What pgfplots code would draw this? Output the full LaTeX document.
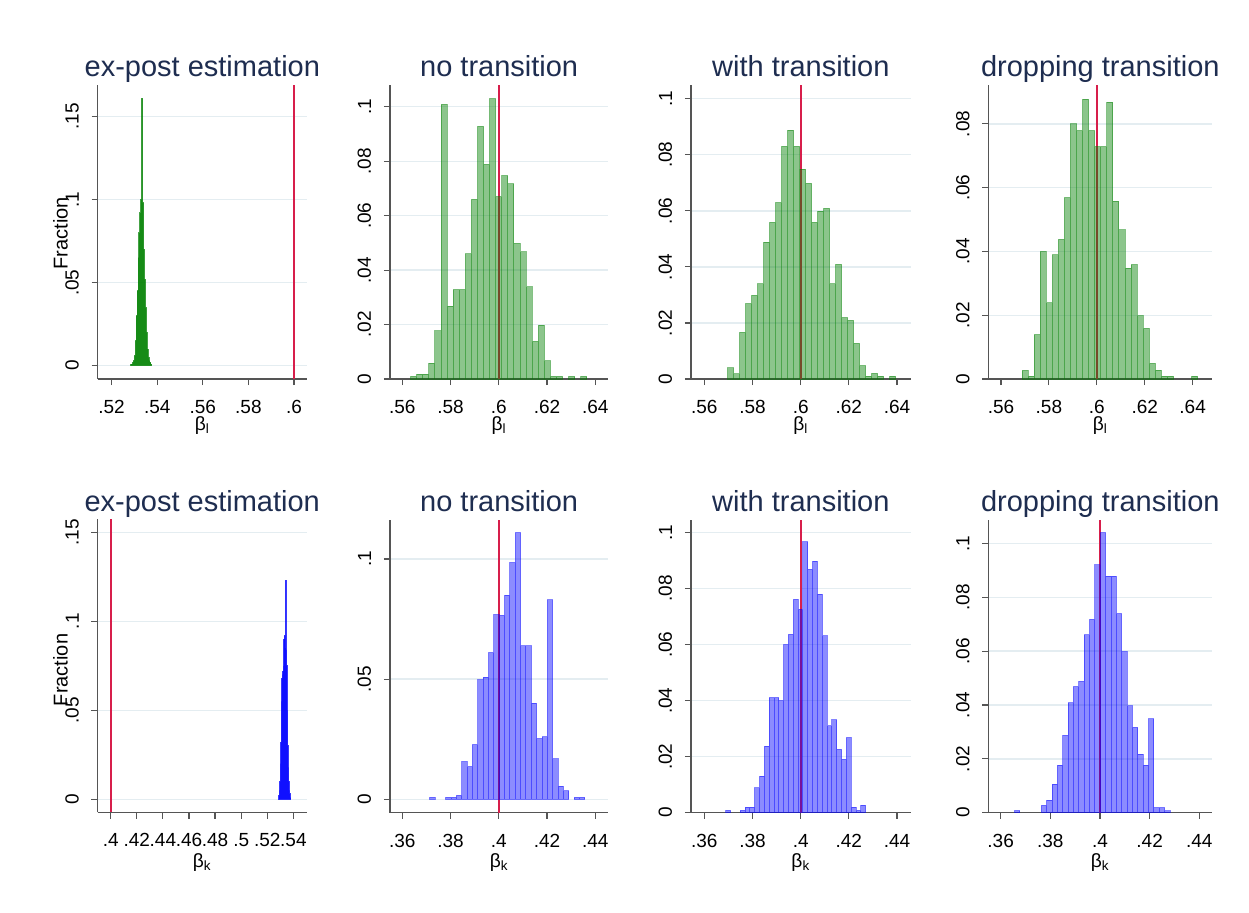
\documentclass[border=0pt]{standalone}
\usepackage{fontspec}
\setmainfont{Liberation Sans}
\usepackage{pgfplots}
\pgfplotsset{compat=1.18}
\definecolor{stgreen}{RGB}{0,128,0}
\definecolor{stblue}{RGB}{0,0,255}
\definecolor{stred}{RGB}{215,30,75}
\definecolor{gridc}{RGB}{228,237,241}
\definecolor{axisc}{RGB}{85,85,85}
\definecolor{titlec}{RGB}{30,45,80}
\pgfplotsset{
  panel/.style={
    scale only axis,
    scaled ticks=false,
    axis x line*=bottom, axis y line*=left,
    axis line style={draw=axisc, line width=0.6pt},
    tick align=outside,
    major tick length=3.1pt,
    every tick/.append style={draw=axisc, line width=0.6pt},
    ymajorgrids,
    major grid style={draw=gridc, line width=0.7pt},
    xticklabel style={font=\fontsize{9.5}{10}\selectfont},
    yticklabel style={font=\fontsize{9.5}{10}\selectfont, rotate=90, anchor=south},
    xticklabel shift=4.0pt,
    yticklabel shift=2.8pt,
    every axis title/.style={font=\fontsize{14.5}{16}\selectfont, text=titlec, at={(0.5,1)}, anchor=base, yshift=4.15pt},
    xlabel style={font=\fontsize{9.6}{11}\selectfont, at={(axis description cs:0.5,0)}, anchor=base},
    ylabel style={font=\fontsize{10}{12}\selectfont, anchor=center},
  },
  gbar/.style={ybar, bar shift=0pt, fill=stgreen, fill opacity=0.45, draw=stgreen, draw opacity=0.45, line width=0.5pt},
  bbar/.style={ybar, bar shift=0pt, fill=stblue, fill opacity=0.45, draw=stblue, draw opacity=0.45, line width=0.5pt},
  tline/.style={draw=stred, line width=1pt, no markers},
}
\begin{document}
\begin{tikzpicture}
\path[fill=white] (0,0) rectangle (624.5pt,456pt);

% ---------- Row 1 ----------
\begin{axis}[panel, at={(48.85pt,266.5pt)}, anchor=south west, width=104.65pt, height=147pt,
  xmin=0.5139, xmax=0.6057, ymin=-0.008, ymax=0.169,
  xtick={0.52,0.54,0.56,0.58,0.6}, xticklabels={.52,.54,.56,.58,.6},
  ytick={0,0.05,0.1,0.15}, yticklabels={0,.05,.1,.15},
  title={ex-post estimation}, xlabel={β\textsubscript{l}}, ylabel={Fraction},
  ylabel style={at={(axis description cs:-0.178,0.496)}},
  xlabel style={yshift=-25.8pt}]
\addplot[tline] coordinates {(0.6,-0.008) (0.6,0.169)};
\addplot[gbar, bar width=0.0004, fill opacity=0.7, draw opacity=0.7] coordinates {(0.5286,0.001)(0.5290,0.001)(0.5294,0.002)(0.5298,0.003)(0.5302,0.006)(0.5306,0.015)(0.5310,0.030)(0.5314,0.045)(0.5318,0.065)(0.5322,0.080)(0.5326,0.092)(0.5330,0.100)(0.5334,0.161)(0.5338,0.098)(0.5342,0.070)(0.5346,0.052)(0.5350,0.035)(0.5354,0.020)(0.5358,0.010)(0.5362,0.005)(0.5366,0.003)(0.5370,0.002)(0.5374,0.001)};
\end{axis}

\begin{axis}[panel, at={(195pt,266.5pt)}, anchor=south west, width=109.15pt, height=147pt,
  xmin=0.55489, xmax=0.64539, ymin=0, ymax=0.108,
  xtick={0.56,0.58,0.6,0.62,0.64}, xticklabels={.56,.58,.6,.62,.64},
  ytick={0,0.02,0.04,0.06,0.08,0.1}, yticklabels={0,.02,.04,.06,.08,.1},
  title={no transition}, xlabel={β\textsubscript{l}},
  xlabel style={yshift=-25.8pt}]
\addplot[tline] coordinates {(0.6,0) (0.6,0.108)};
\addplot[gbar, bar width=0.00252] coordinates {(0.56471,0.001)(0.56723,0.0018)(0.56975,0.0018)(0.57227,0.0058)(0.57479,0.0177)(0.57731,0.1009)(0.57983,0.0268)(0.58235,0.0328)(0.58487,0.0328)(0.58739,0.046)(0.58991,0.066)(0.59243,0.0928)(0.59495,0.0788)(0.59747,0.103)(0.59999,0.067)(0.60251,0.0747)(0.60503,0.0717)(0.60755,0.0498)(0.61007,0.0467)(0.61259,0.0338)(0.61511,0.0138)(0.61763,0.0198)(0.62015,0.0067)(0.62267,0.001)(0.62519,0.001)(0.63023,0.001)(0.63527,0.001)};
\end{axis}

\begin{axis}[panel, at={(345.5pt,266.5pt)}, anchor=south west, width=109.85pt, height=147pt,
  xmin=0.55446, xmax=0.64568, ymin=0, ymax=0.1049,
  xtick={0.56,0.58,0.6,0.62,0.64}, xticklabels={.56,.58,.6,.62,.64},
  ytick={0,0.02,0.04,0.06,0.08,0.1}, yticklabels={0,.02,.04,.06,.08,.1},
  title={with transition}, xlabel={β\textsubscript{l}},
  xlabel style={yshift=-25.8pt}]
\addplot[tline] coordinates {(0.6,0) (0.6,0.1049)};
\addplot[gbar, bar width=0.00249] coordinates {(0.57094,0.004)(0.57343,0.0018)(0.57592,0.0166)(0.57841,0.0269)(0.58090,0.0298)(0.58339,0.0339)(0.58588,0.0488)(0.58837,0.0559)(0.59086,0.0629)(0.59335,0.083)(0.59584,0.0888)(0.59833,0.083)(0.60082,0.0749)(0.60331,0.0698)(0.60580,0.0559)(0.60829,0.0599)(0.61078,0.0609)(0.61327,0.0339)(0.61576,0.0409)(0.61825,0.0219)(0.62074,0.0209)(0.62323,0.0127)(0.62572,0.0048)(0.62821,0.001)(0.63070,0.002)(0.63319,0.001)(0.63817,0.001)};
\end{axis}

\begin{axis}[panel, at={(494.15pt,266.5pt)}, anchor=south west, width=112pt, height=147pt,
  xmin=0.55471, xmax=0.64821, ymin=0, ymax=0.0922,
  xtick={0.56,0.58,0.6,0.62,0.64}, xticklabels={.56,.58,.6,.62,.64},
  ytick={0,0.02,0.04,0.06,0.08}, yticklabels={0,.02,.04,.06,.08},
  title={dropping transition}, xlabel={β\textsubscript{l}},
  xlabel style={yshift=-25.8pt}]
\addplot[tline] coordinates {(0.6,0) (0.6,0.0922)};
\addplot[gbar, bar width=0.00253] coordinates {(0.57004,0.0027)(0.57257,0.0009)(0.57510,0.0139)(0.57763,0.04)(0.58016,0.0239)(0.58269,0.0389)(0.58522,0.0438)(0.58775,0.0569)(0.59028,0.08)(0.59281,0.0779)(0.59534,0.0878)(0.59787,0.0779)(0.60040,0.0729)(0.60293,0.0729)(0.60546,0.0868)(0.60799,0.0558)(0.61052,0.0468)(0.61305,0.0348)(0.61558,0.0359)(0.61811,0.0199)(0.62064,0.0159)(0.62317,0.0049)(0.62570,0.0028)(0.62823,0.0009)(0.63076,0.0009)(0.64087,0.0009)};
\end{axis}

% ---------- Row 2 ----------
\begin{axis}[panel, at={(48.85pt,49.85pt)}, anchor=south west, width=104.5pt, height=146.5pt,
  xmin=0.39004, xmax=0.55022, ymin=-0.0073, ymax=0.1573,
  xtick={0.4,0.42,0.44,0.46,0.48,0.5,0.52,0.54}, xticklabels={.4,.42,.44,.46,.48,.5,.52,.54},
  ytick={0,0.05,0.1,0.15}, yticklabels={0,.05,.1,.15},
  title={ex-post estimation}, xlabel={β\textsubscript{k}}, ylabel={Fraction},
  ylabel style={at={(axis description cs:-0.178,0.486)}},
  xlabel style={yshift=-27.6pt}]
\addplot[tline] coordinates {(0.4,-0.0073) (0.4,0.1573)};
\addplot[bbar, bar width=0.0004, fill opacity=0.75, draw opacity=0.75] coordinates {(0.5290,0.002)(0.5294,0.005)(0.5298,0.010)(0.5302,0.020)(0.5306,0.032)(0.5310,0.055)(0.5314,0.068)(0.5318,0.070)(0.5322,0.072)(0.5326,0.075)(0.5330,0.090)(0.5334,0.092)(0.5338,0.085)(0.5342,0.123)(0.5346,0.084)(0.5350,0.075)(0.5354,0.050)(0.5358,0.030)(0.5362,0.018)(0.5366,0.010)(0.5370,0.005)(0.5374,0.003)(0.5378,0.001)};
\end{axis}

\begin{axis}[panel, at={(195pt,49.65pt)}, anchor=south west, width=109.15pt, height=146.35pt,
  xmin=0.35489, xmax=0.44539, ymin=-0.00555, ymax=0.1162,
  xtick={0.36,0.38,0.4,0.42,0.44}, xticklabels={.36,.38,.4,.42,.44},
  ytick={0,0.05,0.1}, yticklabels={0,.05,.1},
  title={no transition}, xlabel={β\textsubscript{k}},
  xlabel style={yshift=-27.6pt}]
\addplot[tline] coordinates {(0.4,-0.00555) (0.4,0.1162)};
\addplot[bbar, bar width=0.002218] coordinates {(0.37244,0.0008)(0.37909,0.0008)(0.38131,0.0008)(0.38353,0.0017)(0.38575,0.0157)(0.38797,0.0136)(0.39018,0.0228)(0.39240,0.0497)(0.39462,0.0508)(0.39684,0.061)(0.39906,0.0768)(0.40128,0.0765)(0.40349,0.085)(0.40571,0.0985)(0.40793,0.1109)(0.41015,0.0638)(0.41237,0.0638)(0.41458,0.04)(0.41680,0.0253)(0.41902,0.026)(0.42124,0.083)(0.42346,0.0168)(0.42567,0.0055)(0.42789,0.0035)(0.43233,0.0008)(0.43455,0.0008)};
\end{axis}

\begin{axis}[panel, at={(345.5pt,49.65pt)}, anchor=south west, width=109.85pt, height=146.35pt,
  xmin=0.35446, xmax=0.44568, ymin=0, ymax=0.1045,
  xtick={0.36,0.38,0.4,0.42,0.44}, xticklabels={.36,.38,.4,.42,.44},
  ytick={0,0.02,0.04,0.06,0.08,0.1}, yticklabels={0,.02,.04,.06,.08,.1},
  title={with transition}, xlabel={β\textsubscript{k}},
  xlabel style={yshift=-27.6pt}]
\addplot[tline] coordinates {(0.4,0) (0.4,0.1045)};
\addplot[bbar, bar width=0.002004] coordinates {(0.36989,0.0008)(0.37590,0.0008)(0.37791,0.002)(0.37991,0.002)(0.38192,0.0089)(0.38392,0.0131)(0.38592,0.0238)(0.38793,0.0411)(0.38993,0.0411)(0.39194,0.04)(0.39394,0.06)(0.39594,0.0637)(0.39795,0.0762)(0.39995,0.0726)(0.40196,0.0967)(0.40396,0.0869)(0.40596,0.0898)(0.40797,0.078)(0.40997,0.0631)(0.41198,0.031)(0.41398,0.0331)(0.41598,0.0226)(0.41799,0.019)(0.41999,0.0268)(0.42200,0.002)(0.42400,0.0008)(0.42600,0.0027)};
\end{axis}

\begin{axis}[panel, at={(494.15pt,49.65pt)}, anchor=south west, width=112pt, height=146.35pt,
  xmin=0.35503, xmax=0.44523, ymin=0, ymax=0.1087,
  xtick={0.36,0.38,0.4,0.42,0.44}, xticklabels={.36,.38,.4,.42,.44},
  ytick={0,0.02,0.04,0.06,0.08,0.1}, yticklabels={0,.02,.04,.06,.08,.1},
  title={dropping transition}, xlabel={β\textsubscript{k}},
  xlabel style={yshift=-27.6pt}]
\addplot[tline] coordinates {(0.4,0) (0.4,0.1087)};
\addplot[bbar, bar width=0.002159] coordinates {(0.36666,0.0008)(0.37745,0.0027)(0.37961,0.0047)(0.38177,0.0106)(0.38393,0.0177)(0.38609,0.0287)(0.38825,0.0408)(0.39041,0.0468)(0.39257,0.0488)(0.39473,0.066)(0.39689,0.0718)(0.39905,0.092)(0.40121,0.104)(0.40337,0.0879)(0.40553,0.0879)(0.40768,0.0739)(0.40984,0.0598)(0.41200,0.0397)(0.41416,0.0317)(0.41632,0.0218)(0.41848,0.0177)(0.42064,0.0348)(0.42280,0.0019)(0.42496,0.0019)(0.42712,0.0007)};
\end{axis}
\end{tikzpicture}
\end{document}
